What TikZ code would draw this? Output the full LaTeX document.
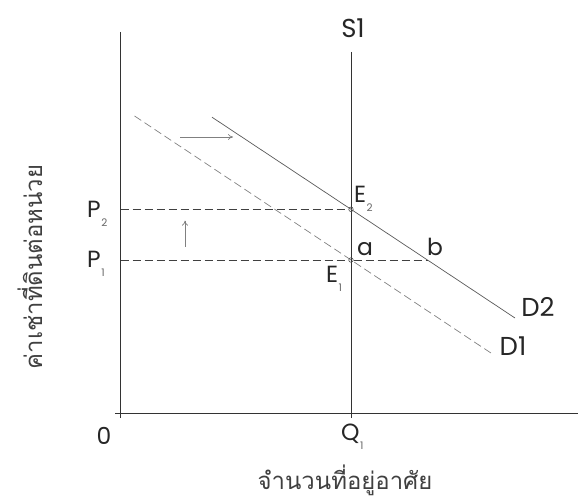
\documentclass[tikz,border=0pt]{standalone}
\usepackage{fontspec}
\newfontfamily\lat{Poppins}
\newfontfamily\thaifont[Script=Thai]{Loma}
\usetikzlibrary{arrows.meta}
\newcommand\subl[2]{#1\hspace{0.5bp}\raisebox{-0.4em}{\color{black!60}\fontsize{10.5}{10.5}\selectfont #2}}
\begin{document}
\begin{tikzpicture}[x=1bp,y=-1bp,
  axisline/.style={draw=black!80,line width=0.8bp},
  dline/.style={draw=black!65,line width=0.7bp},
  dashline/.style={draw=black!75,line width=0.7bp,dash pattern=on 8bp off 4bp},
  dashline2/.style={draw=black!50,line width=0.7bp,dash pattern=on 8bp off 4bp},
  shiftarrow/.style={draw=black!50,line width=0.7bp,-{To[length=5bp,width=6bp]}},
  pt/.style={circle,draw=black!70,line width=0.6bp,inner sep=0pt,minimum size=4.5bp},
  big/.style={font=\lat\fontsize{26}{26}\selectfont,text=black!85,inner sep=0pt},
  mid/.style={font=\lat\fontsize{23.5}{23.5}\selectfont,text=black!85,inner sep=0pt},
  thai/.style={font=\thaifont\fontsize{24}{24}\selectfont,text=black!75,inner sep=0pt}]
\useasboundingbox (0,0) rectangle (578,501);
% coordinates
\coordinate (ytop) at (120.5,32);
\coordinate (ybot) at (120.5,418);
\coordinate (xl) at (115,413);
\coordinate (xr) at (578,413);
\coordinate (stop) at (351,52);
\coordinate (sbot) at (351,418);
\coordinate (d2s) at (212,117.2);
\coordinate (d2e) at (515,318);
\coordinate (d1s) at (134.5,116);
\coordinate (d1e) at (493,354.4);
\coordinate (p2) at (120.5,209.3);
\coordinate (p1) at (120.5,260);
\coordinate (bpt) at (428,260);
\coordinate (ua) at (185,246.7);
\coordinate (ub) at (185,220.7);
\coordinate (ra) at (180,137);
\coordinate (rb) at (233,137);
% axes
\draw[axisline] (ytop) -- (ybot);
\draw[axisline] (xl) -- (xr);
\draw[axisline] (stop) -- (sbot);
% demand curves
\draw[dline] (d2s) -- (d2e);
\draw[dashline2] (d1s) -- (d1e);
% equilibrium points
\node[pt] (e2) at (351,209.3) {};
\node[pt] (e1) at (351,260) {};
\draw[dashline] (p2) -- (e2);
\draw[dashline] (p1) -- (e1) -- (bpt);
% shift arrows
\draw[shiftarrow] (ua) -- (ub);
\draw[shiftarrow] (ra) -- (rb);
% labels
\node[big] (s1) at (353,28) {S1};
\node[big] (ld2) at (538,307) {D2};
\node[big] (ld1) at (513,346) {D1};
\node[mid,anchor=base west] (lp2) at (87,217.5) {\subl{P}{2}};
\node[mid,anchor=base west] (lp1) at (87,267.5) {\subl{P}{1}};
\node[mid,anchor=base west] (le2) at (354,202.5) {\subl{E}{2}};
\node[mid,anchor=base west] (le1) at (326,282.5) {\subl{E}{1}};
\node[mid,anchor=base west] (la) at (357,255.5) {a};
\node[mid,anchor=base west] (lb) at (427,255.5) {b};
\node[mid] (l0) at (104,436) {0};
\node[mid,anchor=base west] (lq1) at (341,440) {\subl{Q}{1}};
\node[thai] (xlab) at (345,480) {จำนวนที่อยู่อาศัย};
\node[thai,rotate=90] (ylab) at (30,267) {ค่าเช่าที่ดินต่อหน่วย};
\end{tikzpicture}
\end{document}
